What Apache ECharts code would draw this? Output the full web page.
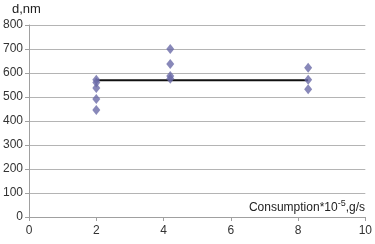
<!DOCTYPE html>
<html>
<head>
<meta charset="utf-8">
<script src="https://cdn.jsdelivr.net/npm/echarts@6/dist/echarts.min.js"></script>
<style>
  html, body { margin: 0; padding: 0; background: #fff; }
  #chart { width: 375px; height: 244px; }
</style>
</head>
<body>
<div id="chart"></div>
<script>
// measured points (x = consumption, y = d)
let pointsX = [2, 2, 2, 2, 2, 4.2, 4.2, 4.2, 4.2, 8.3, 8.3, 8.3]
let pointsY = [560, 537, 492, 446, 572, 700, 638, 588, 576, 622, 572, 532]
// mean line
let meanX = [2, 8.3]
let meanY = [570, 570]

let scatterData = []
pointsX.forEach(function (v, i) {
    scatterData.push([v, pointsY[i]])
})
let lineData = meanX.map(function (v, i) { return [v, meanY[i]] })

let myChart = echarts.init(document.getElementById('chart'))

let option = {
    animation: false,
    grid: {
        left: 25,
        right: 7,
        top: 25,
        bottom: 27
    },
    xAxis: {
        type: 'value',
        min: 0,
        max: 10,
        interval: 2,
        axisLine: { lineStyle: { color: '#a0a0a0' } },
        axisTick: { show: true, length: 4, lineStyle: { color: '#a0a0a0' } },
        axisLabel: { color: '#333', fontFamily: 'Liberation Sans', fontSize: 12, margin: 8 },
        splitLine: { show: false }
    },
    yAxis: {
        type: 'value',
        min: 0,
        max: 800,
        interval: 100,
        axisLine: { show: true, lineStyle: { color: '#a0a0a0' } },
        axisTick: { show: true, length: 4, lineStyle: { color: '#a0a0a0' } },
        axisLabel: { color: '#333', fontFamily: 'Liberation Sans', fontSize: 12, margin: 6 },
        splitLine: { lineStyle: { color: '#b4b4b4', width: 1 } }
    },
    series: [
        {
            type: 'line',
            data: lineData,
            symbol: 'none',
            lineStyle: { color: '#111', width: 2 },
            z: 2
        },
        {
            type: 'scatter',
            data: scatterData,
            symbol: 'diamond',
            symbolSize: [8, 10],
            itemStyle: { color: '#6a6aa8' },
            z: 3
        }
    ],
    graphic: [
        {
            type: 'text',
            left: 12,
            top: 3,
            style: {
                text: 'd,nm',
                fill: '#222',
                font: '13px "Liberation Sans"'
            }
        },
        {
            type: 'text',
            right: 8,
            top: 198,
            style: {
                text: 'Consumption*10{s|-5},g/s',
                fill: '#222',
                font: '12px "Liberation Sans"',
                backgroundColor: '#fff',
                padding: [1, 2, 1, 2],
                rich: {
                    s: { fontSize: 9, verticalAlign: 'top', padding: [0, 0, 8, 0] }
                }
            }
        }
    ]
}
myChart.setOption(option)
</script>
</body>
</html>
